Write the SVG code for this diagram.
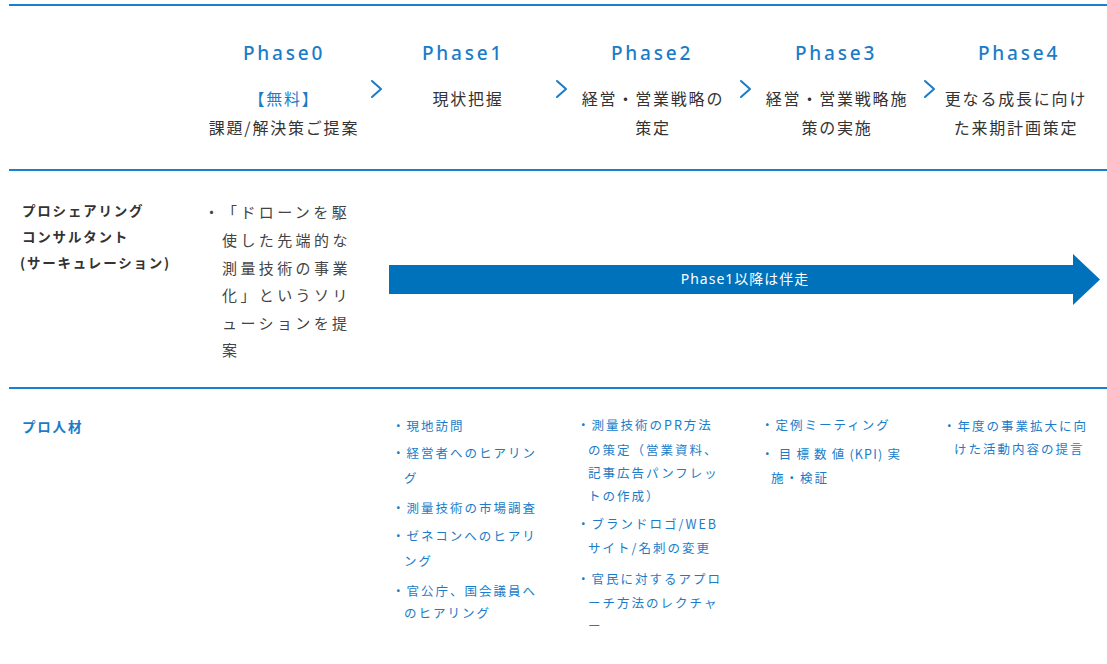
<svg xmlns="http://www.w3.org/2000/svg" width="1107" height="664" viewBox="0 0 1107 664">
<style>
.rule{stroke:#1a7fcf;stroke-width:2;fill:none}
.ph{font-family:"Noto Sans","Noto Sans CJK JP",sans-serif;font-size:19px;font-weight:500;fill:#1a7cc8;letter-spacing:2.8px;text-anchor:middle}
.hd{font-family:"Noto Sans CJK JP",sans-serif;font-size:16px;fill:#333;letter-spacing:1.8px;text-anchor:middle}
.blue{fill:#1a7cc8}
.chev{stroke:#1a7cc8;stroke-width:2;fill:none;stroke-linecap:round;stroke-linejoin:round}
.lbl{font-family:"Noto Sans CJK JP",sans-serif;font-size:13.5px;font-weight:700;fill:#333;letter-spacing:1.8px}
.lblb{font-family:"Noto Sans CJK JP",sans-serif;font-size:13.5px;font-weight:700;fill:#1a7cc8;letter-spacing:1.8px}
.body{font-family:"Noto Sans CJK JP",sans-serif;font-size:15px;fill:#444;letter-spacing:3.4px}
.it{font-family:"Noto Sans CJK JP",sans-serif;font-size:12.5px;fill:#1a7cc8;letter-spacing:2px}
.arrtxt{font-family:"Noto Sans","Noto Sans CJK JP",sans-serif;font-size:14px;fill:#fff;letter-spacing:1px;text-anchor:middle}
</style>
<rect width="1107" height="664" fill="#fff"/>
<g id="rules">
<line class="rule" x1="9" y1="5" x2="1107" y2="5"/>
<line class="rule" x1="9" y1="170" x2="1107" y2="170"/>
<line class="rule" x1="9" y1="388" x2="1107" y2="388"/>
</g>
<g id="phase0">
<text class="ph" x="284" y="60">Phase0</text>
<text class="hd blue" x="284" y="105">【無料】</text>
<text class="hd" x="284" y="134">課題/解決策ご提案</text>
</g>
<g id="phase1">
<text class="ph" x="463" y="60">Phase1</text>
<text class="hd" x="468" y="105">現状把握</text>
</g>
<g id="phase2">
<text class="ph" x="652" y="60">Phase2</text>
<text class="hd" x="653" y="105">経営・営業戦略の</text>
<text class="hd" x="653" y="134">策定</text>
</g>
<g id="phase3">
<text class="ph" x="836" y="60">Phase3</text>
<text class="hd" x="837" y="105">経営・営業戦略施</text>
<text class="hd" x="837" y="134">策の実施</text>
</g>
<g id="phase4">
<text class="ph" x="1019" y="60">Phase4</text>
<text class="hd" x="1016" y="105">更なる成長に向け</text>
<text class="hd" x="1016" y="134">た来期計画策定</text>
</g>
<g id="connectors">
<polyline class="chev" points="372,81 381,89 372,97"/>
<polyline class="chev" points="557,81 566,89 557,97"/>
<polyline class="chev" points="741,81 750,89 741,97"/>
<polyline class="chev" points="925,81 934,89 925,97"/>
</g>
<g id="row-consultant">
<text class="lbl" x="22" y="216">プロシェアリング</text>
<text class="lbl" x="22" y="242">コンサルタント</text>
<text class="lbl" x="20" y="268">(サーキュレーション)</text>
<text class="body" x="204" y="218">・</text>
<text class="body" x="222" y="218">「ドローンを駆</text>
<text class="body" x="222" y="246">使した先端的な</text>
<text class="body" x="222" y="274">測量技術の事業</text>
<text class="body" x="222" y="301">化」というソリ</text>
<text class="body" x="222" y="329">ューションを提</text>
<text class="body" x="222" y="356">案</text>
</g>
<g id="arrow">
<polygon points="389,265 1073,265 1073,254 1100,279.5 1073,305 1073,294 389,294" fill="#0072bc"/>
<text class="arrtxt" x="745" y="284">Phase1以降は伴走</text>
</g>
<g id="row-pro">
<text class="lblb" x="22" y="432">プロ人材</text>
</g>
<g id="col1">
<text class="it" x="392" y="431">・現地訪問</text>
<text class="it" x="392" y="458">・経営者へのヒアリン</text>
<text class="it" x="404" y="483">グ</text>
<text class="it" x="392" y="513">・測量技術の市場調査</text>
<text class="it" x="392" y="541">・ゼネコンへのヒアリ</text>
<text class="it" x="404" y="566">ング</text>
<text class="it" x="392" y="596">・官公庁、国会議員へ</text>
<text class="it" x="404" y="618">のヒアリング</text>
</g>
<g id="col2">
<text class="it" x="577" y="430">・測量技術のPR方法</text>
<text class="it" x="588" y="455">の策定（営業資料、</text>
<text class="it" x="588" y="478">記事広告パンフレッ</text>
<text class="it" x="588" y="501">トの作成）</text>
<text class="it" x="577" y="529">・ブランドロゴ/WEB</text>
<text class="it" x="588" y="553">サイト/名刺の変更</text>
<text class="it" x="577" y="584">・官民に対するアプロ</text>
<text class="it" x="588" y="608">ーチ方法のレクチャ</text>
<text class="it" x="588" y="631">ー</text>
</g>
<g id="col3">
<text class="it" x="761" y="430">・定例ミーティング</text>
<text class="it" x="761" y="459" textLength="141" lengthAdjust="spacing">・ 目 標 数 値 (KPI) 実</text>
<text class="it" x="771" y="483">施・検証</text>
</g>
<g id="col4">
<text class="it" x="943" y="431">・年度の事業拡大に向</text>
<text class="it" x="954" y="454">けた活動内容の提言</text>
</g>
</svg>
